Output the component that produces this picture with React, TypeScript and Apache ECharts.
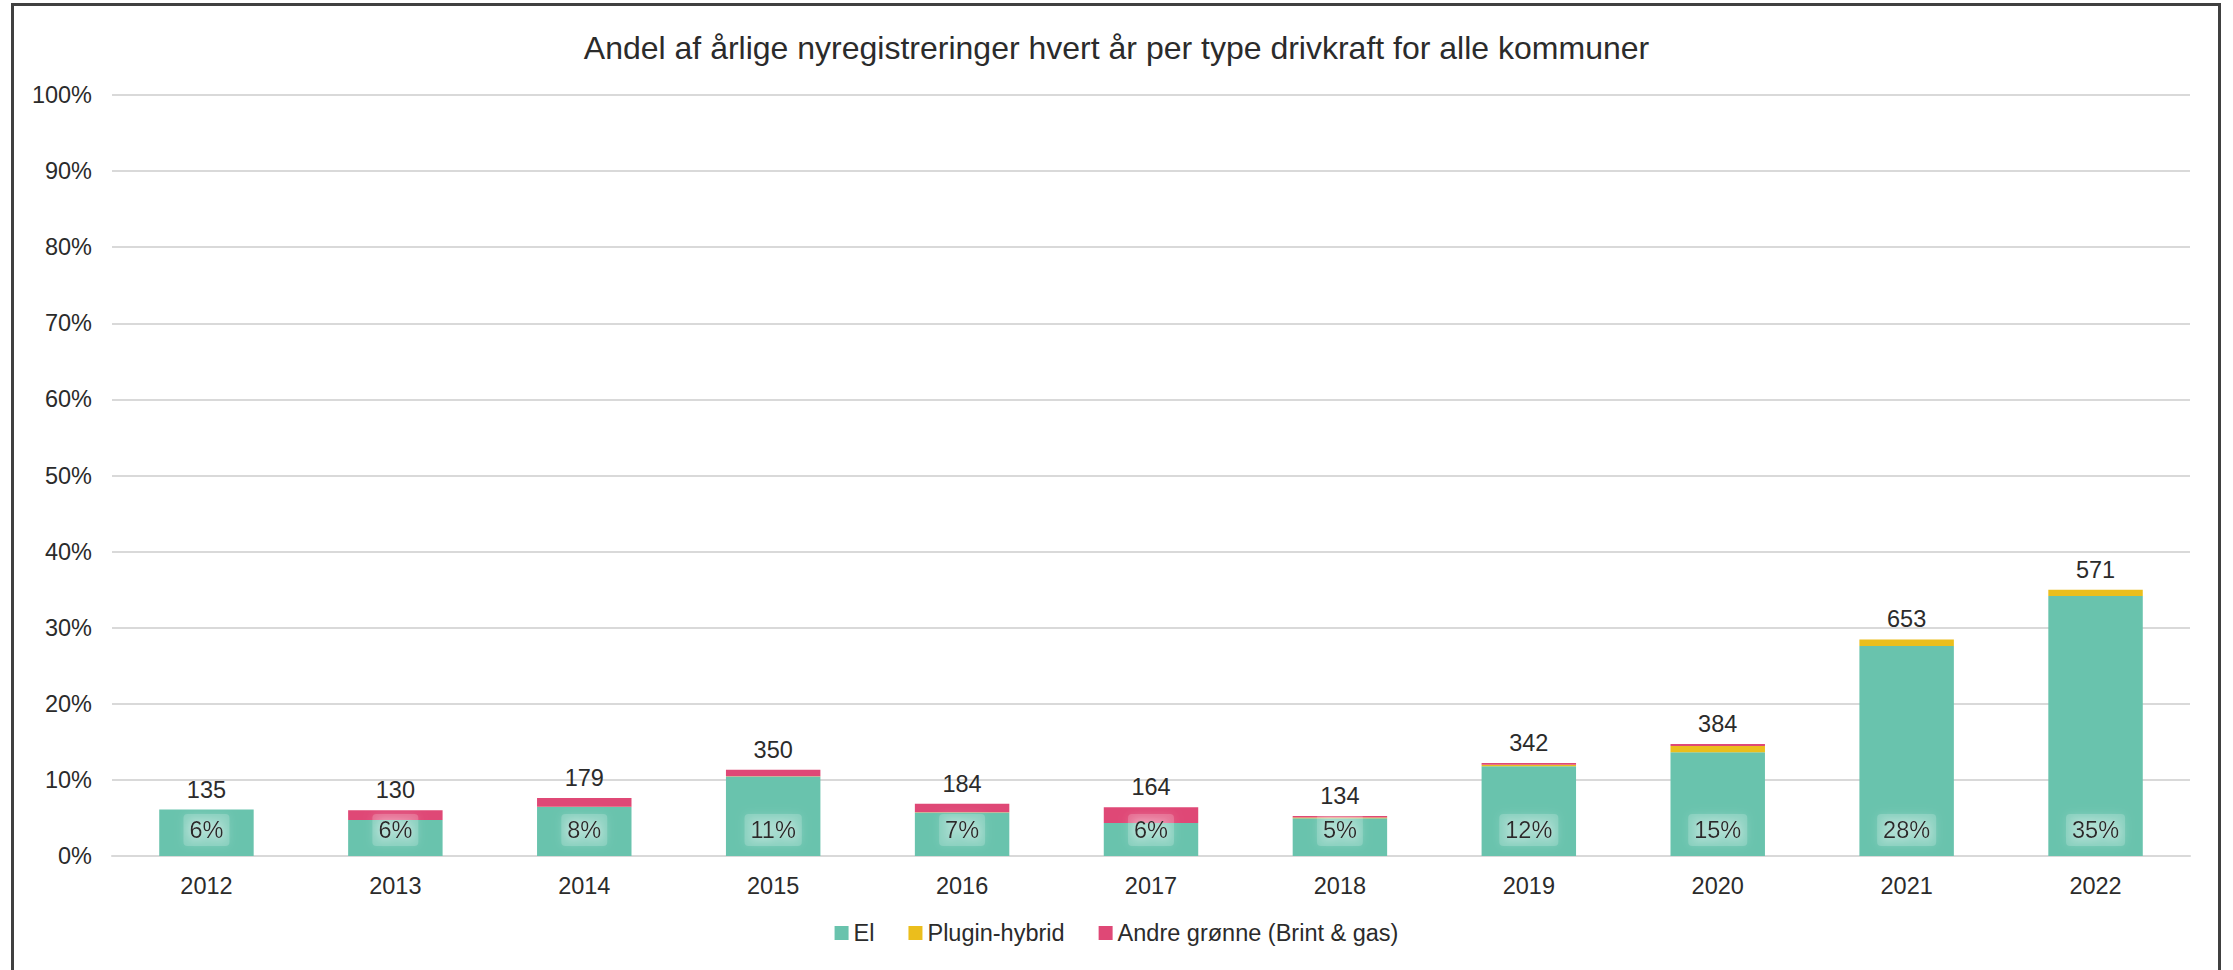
import React, { useEffect, useRef } from "react";
import * as echarts from "echarts";

const titleText = "Andel af årlige nyregistreringer hvert år per type drivkraft for alle kommuner";
const years = ["2012", "2013", "2014", "2015", "2016", "2017", "2018", "2019", "2020", "2021", "2022"];
const elShare = [6.1, 4.74, 6.45, 10.44, 5.7, 4.34, 4.97, 11.78, 13.63, 27.59, 34.17];
const pluginShare = [0, 0, 0.03, 0.03, 0.05, 0, 0.1, 0.22, 0.84, 0.87, 0.83];
const andreShare = [0, 1.27, 1.14, 0.88, 1.1, 2.06, 0.2, 0.22, 0.26, 0, 0];
const totalCounts = [135, 130, 179, 350, 184, 164, 134, 342, 384, 653, 571];
const seriesNames = ["El", "Plugin-hybrid", "Andre grønne (Brint & gas)"];
const yTicks = { min: 0, max: 100, interval: 10 };

const FONT = "'Liberation Sans', Arial, sans-serif";
const TEXT = "#2b2b2b";

export default function App() {
  const ref = useRef<HTMLDivElement>(null);
  useEffect(() => {
    document.body.style.margin = "0";
    if (!ref.current) return;
    const chart = echarts.init(ref.current, null, { renderer: "svg" });
    const totals = years.map((_, i) => elShare[i] + pluginShare[i] + andreShare[i]);
    chart.setOption({
      animation: false,
      backgroundColor: "#ffffff",
      textStyle: { fontFamily: FONT },
      title: {
        text: titleText,
        left: "center",
        top: 27,
        textStyle: { fontFamily: FONT, fontSize: 32, fontWeight: "normal", color: TEXT },
      },
      legend: {
        data: seriesNames,
        bottom: 20,
        left: "center",
        itemWidth: 14,
        itemHeight: 14,
        itemGap: 34,
        icon: "rect",
        textStyle: { fontFamily: FONT, fontSize: 23.5, color: TEXT },
      },
      grid: { left: 112, right: 43, top: 95, bottom: 114 },
      xAxis: {
        type: "category",
        data: years,
        axisTick: { show: false },
        axisLine: { lineStyle: { color: "#d9d9d9", width: 2 } },
        axisLabel: { fontFamily: FONT, fontSize: 23.5, color: TEXT, margin: 18 },
      },
      yAxis: {
        type: "value",
        min: yTicks.min,
        max: yTicks.max,
        interval: yTicks.interval,
        axisLine: { show: false },
        axisTick: { show: false },
        axisLabel: { fontFamily: FONT, fontSize: 23.5, color: TEXT, margin: 20, formatter: "{value}%" },
        splitLine: { lineStyle: { color: "#d9d9d9", width: 2 } },
      },
      graphic: [
        {
          type: "rect",
          shape: { x: 12.5, y: 4.5, width: 2207, height: 1000 },
          style: { fill: "none", stroke: "#404040", lineWidth: 3 },
          silent: true,
          z: 100,
        },
      ],
      series: [
        {
          name: seriesNames[0],
          type: "bar",
          stack: "total",
          barWidth: "50%",
          data: elShare,
          itemStyle: { color: "#69c3ad" },
          label: {
            show: true,
            position: "insideBottom",
            distance: 10,
            formatter: (p: any) => Math.round(totals[p.dataIndex]) + "%",
            fontFamily: FONT,
            fontSize: 23.5,
            color: TEXT,
            backgroundColor: "rgba(255,255,255,0.18)",
            borderRadius: 4,
            padding: [4, 6],
            shadowBlur: 10,
            shadowColor: "rgba(255,255,255,0.7)",
            textShadowBlur: 10,
            textShadowColor: "rgba(255,255,255,0.9)",
          },
          z: 2,
        },
        {
          name: seriesNames[1],
          type: "bar",
          stack: "total",
          data: pluginShare,
          itemStyle: { color: "#ebbe1c" },
        },
        {
          name: seriesNames[2],
          type: "bar",
          stack: "total",
          data: andreShare,
          itemStyle: { color: "#df4876" },
        },
        {
          name: "Antal",
          type: "bar",
          stack: "total",
          data: years.map(() => 0),
          itemStyle: { color: "transparent" },
          label: {
            show: true,
            position: "top",
            distance: 8,
            formatter: (p: any) => String(totalCounts[p.dataIndex]),
            fontFamily: FONT,
            fontSize: 23.5,
            color: TEXT,
          },
        },
      ],
    });
    return () => chart.dispose();
  }, []);
  return <div ref={ref} style={{ width: 2233, height: 970 }} />;
}
